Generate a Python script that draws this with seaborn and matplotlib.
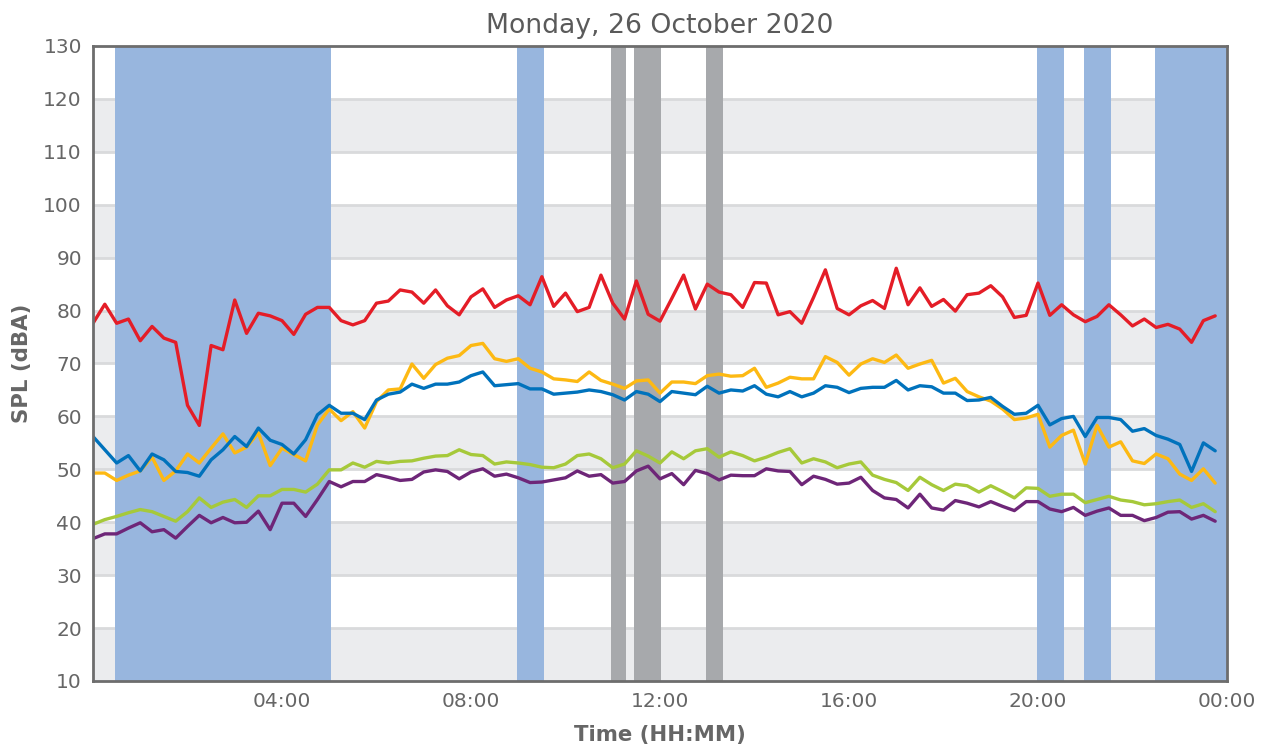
import numpy as np
import pandas as pd
import matplotlib
matplotlib.use("Agg")
import matplotlib.pyplot as plt
import seaborn as sns

# ---------------- data ----------------
hours = np.arange(96) * 0.25  # 15-minute samples, 00:00 .. 23:45

red = [77.6, 81.2, 77.6, 78.4, 74.3, 77.0, 74.8, 74.0, 62.1, 58.3, 73.4, 72.6, 82.0, 75.7, 79.5, 79.0, 78.1,
       75.5, 79.3, 80.6, 80.6, 78.1, 77.3, 78.1, 81.4, 81.8, 83.9, 83.5, 81.4, 83.9, 80.9, 79.2, 82.6,
       84.1, 80.6, 82.0, 82.8, 81.1, 86.4, 80.8, 83.3, 79.8, 80.6, 86.7, 81.4, 78.4, 85.6, 79.3, 78.0,
       82.3, 86.7, 80.3, 85.0, 83.5, 83.0, 80.6, 85.3, 85.2, 79.2, 79.8, 77.6, 82.5, 87.7, 80.4, 79.2,
       80.9, 81.9, 80.4, 88.0, 81.1, 84.3, 80.8, 82.1, 79.9, 83.0, 83.3, 84.7, 82.6, 78.7, 79.1, 85.2,
       79.1, 81.1, 79.2, 77.9, 78.9, 81.1, 79.2, 77.1, 78.4, 76.8, 77.4, 76.5, 74.0, 78.1, 79.0]

yellow = [49.3, 49.3, 47.9, 48.9, 49.7, 52.3, 47.9, 49.7, 52.9, 51.2, 54.0, 56.7, 53.1, 54.2, 56.9, 50.7, 54.0,
          52.8, 51.6, 58.4, 61.4, 59.2, 60.9, 57.8, 62.8, 65.0, 65.2, 69.9, 67.2, 69.8, 71.0, 71.5, 73.4,
          73.8, 70.9, 70.4, 70.9, 69.1, 68.4, 67.1, 66.9, 66.6, 68.4, 66.8, 66.1, 65.3, 66.7, 66.9, 64.4,
          66.5, 66.5, 66.2, 67.7, 68.0, 67.6, 67.7, 69.1, 65.5, 66.3, 67.4, 67.1, 67.1, 71.3, 70.2, 67.8,
          69.9, 70.9, 70.2, 71.6, 69.1, 69.9, 70.6, 66.3, 67.2, 64.7, 63.7, 62.9, 61.4, 59.4, 59.7, 60.4,
          54.2, 56.4, 57.4, 51.0, 58.3, 54.2, 55.2, 51.6, 51.1, 52.9, 52.0, 49.1, 47.9, 50.1, 47.4]

blue = [56.2, 53.7, 51.2, 52.6, 49.7, 52.9, 51.8, 49.6, 49.4, 48.7, 51.8, 53.7, 56.2, 54.3, 57.8, 55.5, 54.7,
        52.9, 55.6, 60.3, 62.1, 60.6, 60.6, 59.4, 63.1, 64.2, 64.6, 66.1, 65.3, 66.1, 66.1, 66.5, 67.7,
        68.4, 65.8, 66.0, 66.2, 65.2, 65.2, 64.2, 64.4, 64.6, 65.0, 64.7, 64.1, 63.1, 64.7, 64.2, 62.8,
        64.7, 64.4, 64.1, 65.7, 64.4, 65.0, 64.8, 65.8, 64.2, 63.7, 64.7, 63.7, 64.4, 65.8, 65.5, 64.5,
        65.3, 65.5, 65.5, 66.8, 65.0, 65.8, 65.6, 64.4, 64.4, 63.0, 63.1, 63.6, 61.9, 60.4, 60.6, 62.1,
        58.4, 59.6, 60.0, 56.2, 59.8, 59.8, 59.4, 57.2, 57.7, 56.4, 55.7, 54.7, 49.6, 55.0, 53.5]

green = [39.6, 40.5, 41.1, 41.8, 42.4, 42.0, 41.1, 40.2, 42.0, 44.6, 42.8, 43.8, 44.3, 42.8, 45.0, 45.0, 46.2,
         46.2, 45.7, 47.2, 49.9, 49.9, 51.2, 50.4, 51.5, 51.2, 51.5, 51.6, 52.1, 52.5, 52.6, 53.7, 52.8,
         52.6, 51.0, 51.4, 51.2, 50.9, 50.4, 50.3, 51.0, 52.6, 52.9, 52.0, 50.3, 51.0, 53.5, 52.5, 51.2,
         53.3, 52.0, 53.5, 53.9, 52.3, 53.3, 52.6, 51.6, 52.3, 53.2, 53.9, 51.2, 52.0, 51.4, 50.3, 51.0,
         51.4, 48.9, 48.1, 47.5, 46.0, 48.5, 47.1, 46.0, 47.2, 46.9, 45.7, 46.9, 45.8, 44.6, 46.5, 46.4,
         44.9, 45.3, 45.3, 43.7, 44.3, 44.9, 44.2, 43.9, 43.3, 43.5, 43.9, 44.2, 42.8, 43.5, 42.0]

purple = [36.9, 37.8, 37.8, 38.9, 39.9, 38.2, 38.6, 37.0, 39.2, 41.3, 39.9, 40.9, 39.9, 40.0, 42.1, 38.6, 43.6,
          43.6, 41.1, 44.3, 47.7, 46.7, 47.7, 47.7, 49.0, 48.5, 47.9, 48.1, 49.5, 49.9, 49.6, 48.2, 49.5,
          50.1, 48.7, 49.1, 48.4, 47.5, 47.6, 48.0, 48.4, 49.7, 48.7, 49.0, 47.4, 47.7, 49.7, 50.6, 48.2,
          49.2, 47.1, 49.8, 49.2, 48.0, 48.9, 48.8, 48.8, 50.1, 49.7, 49.6, 47.1, 48.7, 48.1, 47.2, 47.4,
          48.5, 46.0, 44.6, 44.3, 42.7, 45.3, 42.7, 42.3, 44.1, 43.6, 42.9, 43.9, 43.0, 42.2, 43.9, 43.9,
          42.5, 42.0, 42.8, 41.3, 42.1, 42.7, 41.3, 41.3, 40.3, 40.9, 41.9, 42.0, 40.6, 41.3, 40.2]

# shaded periods (hours)
blue_spans = [(0.47, 5.03), (8.97, 9.55), (19.98, 20.54), (20.97, 21.54), (22.47, 24.0)]
gray_spans = [(10.97, 11.27), (11.46, 12.03), (12.98, 13.33)]

title = "Monday, 26 October 2020"
xtick_pos = [4, 8, 12, 16, 20, 24]
xtick_labels = ["04:00", "08:00", "12:00", "16:00", "20:00", "00:00"]
ytick_pos = list(range(10, 131, 10))

series_names = ["red", "yellow", "blue", "green", "purple"]
palette = {"red": "#e41d27", "yellow": "#fdb913", "blue": "#0072bc",
           "green": "#a6c93a", "purple": "#6e2678"}

df = pd.DataFrame({
    "hour": np.tile(hours, 5),
    "spl": red + yellow + blue + green + purple,
    "series": np.repeat(series_names, 96),
})

# ---------------- plot ----------------
sns.set_theme(style="white")
plt.rcParams["font.family"] = ["DejaVu Sans"]

fig = plt.figure(figsize=(12.74, 7.49), dpi=100)
ax = fig.add_axes([93 / 1274, 1 - 681 / 749, (1227 - 93) / 1274, (681 - 46) / 749])

# alternating background bands
for lo in range(10, 130, 20):
    ax.axhspan(lo, lo + 10, color="#ebecee", lw=0, zorder=0)
for y in ytick_pos[1:-1]:
    ax.axhline(y, color="#d9dadc", lw=2, zorder=0.5)

for a, b in blue_spans:
    ax.axvspan(a, b, color="#98b6de", lw=0, zorder=1)
for a, b in gray_spans:
    ax.axvspan(a, b, color="#a7a9ac", lw=0, zorder=1)

sns.lineplot(data=df, x="hour", y="spl", hue="series", palette=palette,
             hue_order=["purple", "green", "yellow", "blue", "red"],
             linewidth=2.4, legend=False, ax=ax, zorder=3)

ax.set_xlim(0, 24)
ax.set_ylim(10, 130)
ax.set_xticks(xtick_pos)
ax.set_xticklabels(xtick_labels)
ax.set_yticks(ytick_pos)
ax.tick_params(axis="both", direction="in", length=8, width=1.5, color="#a0a0a0",
               labelsize=14.5, labelcolor="#666666", pad=8)
ax.tick_params(axis="x", pad=8)

for s in ax.spines.values():
    s.set_color("#6d6d6d")
    s.set_linewidth(2)
    s.set_zorder(5)

ax.set_title(title, fontsize=19.2, color="#5a5a5a", pad=9.5)
ax.set_xlabel("Time (HH:MM)", fontsize=15.3, fontweight="bold", color="#666666", labelpad=10)
ax.set_ylabel("SPL (dBA)", fontsize=15.3, fontweight="bold", color="#666666", labelpad=8)

fig.savefig("out.png", dpi=100)
